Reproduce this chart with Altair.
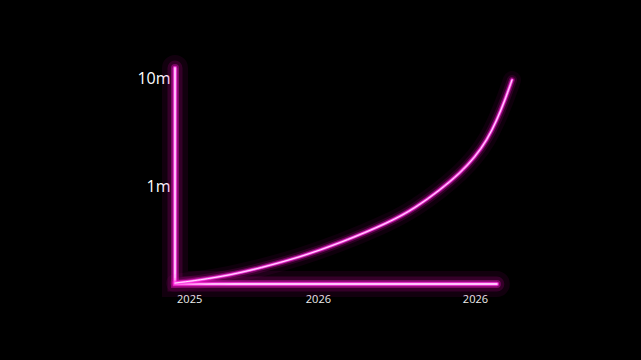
import altair as alt
import pandas as pd

# curve values (x in arbitrary time units 0..100, y in millions, log scale)
curve_t = [0, 7.4, 16.3, 25.2, 37.1, 49.0, 63.8, 71.2, 78.6, 84.6, 89.0, 92.6, 95.5, 97.9, 100]
curve_v = [0.1265, 0.135, 0.150, 0.174, 0.220, 0.297, 0.464, 0.625, 0.918, 1.32, 1.856, 2.67, 4.08, 6.25, 9.6]
# neon frame (axis lines)
frame_t = [0, 0, 95.5]
frame_v = [12.4, 0.124, 0.124]
# tick labels
x_tick_values = [4.2, 42.4, 89.0]
x_tick_labels = ["2025", "2026", "2026"]
y_tick_values = [1, 10]
y_tick_labels = ["1m", "10m"]

curve = pd.DataFrame({"t": curve_t, "v": curve_v, "i": range(len(curve_t))})
frame = pd.DataFrame({"t": frame_t, "v": frame_v, "i": range(len(frame_t))})


def expr(values, labels):
    s = "''"
    for v, l in reversed(list(zip(values, labels))):
        s = f"abs(datum.value - {v}) < 0.01 ? '{l}' : ({s})"
    return s


xs = alt.Scale(domain=[0, 100], nice=False, zero=False)
ys = alt.Scale(type="log", domain=[0.124, 12.4], nice=False)

x_axis = alt.Axis(values=x_tick_values, labelExpr=expr(x_tick_values, x_tick_labels),
                  domain=False, ticks=False, grid=False, title=None,
                  labelColor="#ececec", labelFontSize=11, labelFont="Open Sans",
                  labelPadding=9, labelFlush=False)
y_axis = alt.Axis(values=y_tick_values, labelExpr=expr(y_tick_values, y_tick_labels),
                  domain=False, ticks=False, grid=False, title=None,
                  labelColor="#ffffff", labelFontSize=16, labelFont="Open Sans",
                  labelPadding=5)

layers = []
glow_frame = [(26, 0.07, "#ff00cc"), (15, 0.15, "#ff00cc"), (8, 0.35, "#ff10d4"),
              (4.5, 0.7, "#ff2ee0"), (2.6, 1.0, "#ff66ee"), (1.3, 1.0, "#ffe6ff")]
glow_curve = [(18, 0.06, "#ff00cc"), (10, 0.13, "#ff00cc"), (6, 0.3, "#ff10d4"),
              (3.4, 0.7, "#ff2ee0"), (2.0, 1.0, "#ff66ee"), (1.0, 1.0, "#ffe0ff")]

for w, o, c in glow_frame:
    layers.append(
        alt.Chart(frame).mark_line(strokeWidth=w, opacity=o, color=c, strokeCap="round",
                                   strokeJoin="miter", clip=False).encode(
            x=alt.X("t:Q", scale=xs, axis=x_axis),
            y=alt.Y("v:Q", scale=ys, axis=y_axis),
            order="i:O",
        )
    )

for w, o, c in glow_curve:
    layers.append(
        alt.Chart(curve).mark_line(strokeWidth=w, opacity=o, color=c, strokeCap="round",
                                   interpolate="basis", clip=False).encode(
            x=alt.X("t:Q", scale=xs, axis=x_axis),
            y=alt.Y("v:Q", scale=ys, axis=y_axis),
            order="i:O",
        )
    )

chart = alt.layer(*layers).properties(
    width=337, height=216,
    autosize=alt.AutoSizeParams(type="none"),
    padding={"left": 175, "top": 68, "right": 129, "bottom": 76},
    background="black",
).configure_view(stroke=None)

chart.save("out.html", embed_options={"renderer": "svg", "actions": False})
